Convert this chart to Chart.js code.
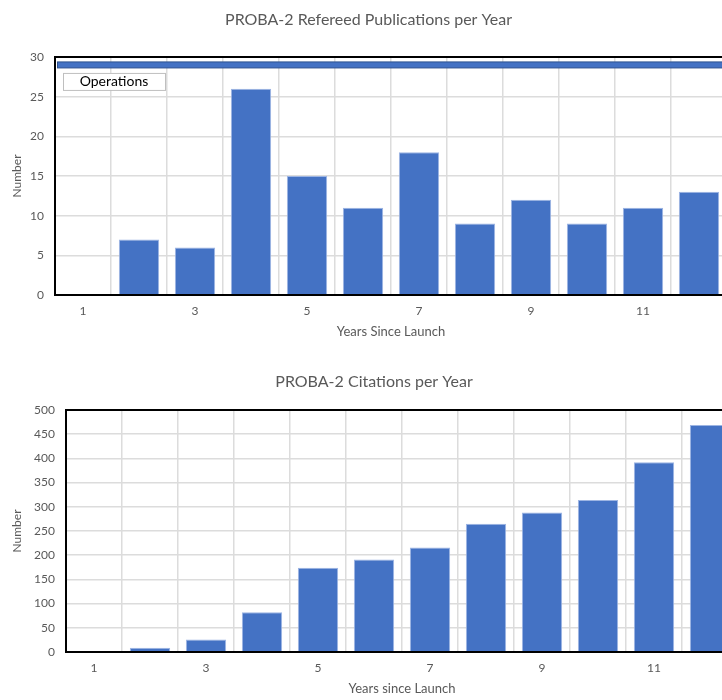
<!DOCTYPE html>
<html>
<head>
<meta charset="utf-8">
<title>PROBA-2 publications and citations</title>
<script src="https://cdn.jsdelivr.net/npm/chart.js@4.4.1/dist/chart.umd.min.js"></script>
<style>
  html, body { margin: 0; padding: 0; background: #fff; overflow: hidden; }
  .box { position: absolute; left: 0; }
</style>
</head>
<body>
<div class="box" style="top:0px"><canvas id="pubChart" width="760" height="350"></canvas></div>
<div class="box" style="top:350px"><canvas id="citeChart" width="760" height="350"></canvas></div>
<script>
// data
var years = ['1', '2', '3', '4', '5', '6', '7', '8', '9', '10', '11', '12'];
var publications = [0, 7, 6, 26, 15, 11, 18, 9, 12, 9, 11, 13];
var citations = [0, 9, 26, 82, 174, 191, 216, 265, 288, 314, 392, 469];
var pubTicks = [0, 5, 10, 15, 20, 25, 30];
var citeTicks = [0, 50, 100, 150, 200, 250, 300, 350, 400, 450, 500];
var opsLevel = 29;
var opsLabel = 'Operations';

var FONT = 'Lato';
var BLUE = '#4472C4';
var GRID = '#dcdcdc';
var TXT = '#595959';

// frame round the plot area (Excel style)
var framePlugin = {
  id: 'frame',
  afterDraw: function (chart) {
    var a = chart.chartArea, ctx = chart.ctx;
    ctx.save();
    ctx.strokeStyle = '#000';
    ctx.lineWidth = 2;
    ctx.strokeRect(a.left, a.top, a.right - a.left, a.bottom - a.top);
    ctx.restore();
  }
};

// operations band + its label box
var opsPlugin = {
  id: 'ops',
  afterDatasetsDraw: function (chart) {
    var a = chart.chartArea, ctx = chart.ctx;
    var y = chart.scales.y.getPixelForValue(opsLevel);
    ctx.save();
    ctx.fillStyle = BLUE;
    ctx.strokeStyle = '#2f528f';
    ctx.lineWidth = 1;
    ctx.fillRect(a.left + 2, y - 3, a.right - a.left - 2, 6);
    ctx.strokeRect(a.left + 2.5, y - 3, a.right - a.left - 2, 6);
    ctx.fillStyle = '#fff';
    ctx.strokeStyle = '#bfbfbf';
    ctx.fillRect(a.left + 8, y + 8, 102, 17);
    ctx.strokeRect(a.left + 8.5, y + 8.5, 102, 17);
    ctx.fillStyle = '#000';
    ctx.font = '14px ' + FONT;
    ctx.textAlign = 'center';
    ctx.textBaseline = 'middle';
    ctx.fillText(opsLabel, a.left + 59, y + 17);
    ctx.restore();
  }
};

function makeChart(id, title, xTitle, values, ticks, yWidth, xHeight, pad, titlePad, xTitlePad, extra) {
  var ctx = document.getElementById(id).getContext('2d');
  return new Chart(ctx, {
    type: 'bar',
    data: {
      labels: years,
      datasets: [{
        data: values,
        backgroundColor: BLUE,
        borderColor: '#9db5e3',
        borderWidth: 1,
        categoryPercentage: 1,
        barPercentage: 0.72
      }]
    },
    options: {
      responsive: false,
      animation: false,
      layout: { padding: pad },
      plugins: {
        legend: { display: false },
        tooltip: { enabled: false },
        title: {
          display: true,
          text: title,
          color: TXT,
          font: { family: FONT, size: 16, weight: 'normal' },
          padding: titlePad
        }
      },
      scales: {
        x: {
          grid: { color: GRID, lineWidth: 1.5, drawTicks: false, offset: true },
          border: { color: '#000', width: 2 },
          ticks: {
            autoSkip: false,
            maxRotation: 0,
            padding: 9,
            color: TXT,
            font: { family: FONT, size: 12 },
            callback: function (val, i) { return i % 2 === 0 ? this.getLabelForValue(val) : ''; }
          },
          title: {
            display: true,
            text: xTitle,
            color: TXT,
            font: { family: FONT, size: 13 },
            padding: { top: 0, bottom: xTitlePad }
          },
          afterFit: function (s) { s.height = xHeight; }
        },
        y: {
          min: ticks[0],
          max: ticks[ticks.length - 1],
          afterBuildTicks: function (s) { s.ticks = ticks.map(function (v) { return { value: v }; }); },
          grid: { color: GRID, lineWidth: 1.5, drawTicks: false },
          border: { color: '#000', width: 2 },
          ticks: {
            padding: 11,
            color: TXT,
            font: { family: FONT, size: 12 }
          },
          title: {
            display: true,
            text: 'Number',
            color: TXT,
            font: { family: FONT, size: 12 },
            padding: { top: 0, bottom: 0 }
          },
          afterFit: function (s) { s.width = yWidth; }
        }
      }
    },
    plugins: [framePlugin].concat(extra)
  });
}

makeChart('pubChart', 'PROBA-2 Refereed Publications per Year', 'Years Since Launch',
  publications, pubTicks, 45, 50,
  { left: 10, right: 33, top: 0, bottom: 5 }, { top: 10, bottom: 27.8 }, 5, [opsPlugin]);

makeChart('citeChart', 'PROBA-2 Citations per Year', 'Years since Launch',
  citations, citeTicks, 56, 48,
  { left: 10, right: 22, top: 0, bottom: 0 }, { top: 22, bottom: 18.8 }, 3, []);
</script>
</body>
</html>
